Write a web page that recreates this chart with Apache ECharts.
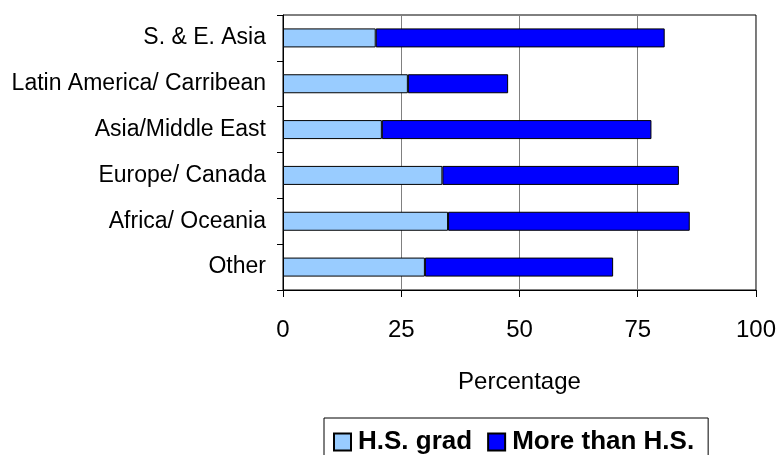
<!DOCTYPE html>
<html lang="en">
<head>
    <meta charset="UTF-8">
    <title>Education by region</title>
    <script src="https://cdn.jsdelivr.net/npm/echarts@6/dist/echarts.min.js"></script>
    <style>
        html, body { margin: 0; padding: 0; background: #fff; }
    </style>
</head>
<body>
<div id="chart" style="width: 779px;height:455px;"></div>
<script>
    // categories, top to bottom
    var regions = ['S. & E. Asia', 'Latin America/ Carribean', 'Asia/Middle East', 'Europe/ Canada', 'Africa/ Oceania', 'Other'];
    // stacked parts (percent)
    var hsGrad = [19.6, 26.4, 20.9, 33.7, 34.9, 30.0];
    var moreThanHS = [61.1, 21.2, 57.0, 50.0, 51.1, 39.8];
    var xTicks = [0, 25, 50, 75, 100];

    var font = '"Liberation Sans", Arial, sans-serif';
    var myChart = echarts.init(document.getElementById('chart'));

    var option = {
        backgroundColor: '#fff',
        animation: false,
        grid: {
            left: 283, right: 23, top: 15, height: 275,
            show: true, borderColor: '#000', borderWidth: 1
        },
        legend: {
            left: 324, top: 418,
            orient: 'horizontal',
            itemWidth: 17, itemHeight: 17, itemGap: 15,
            padding: [11, 14, 12, 9],
            borderColor: '#000', borderWidth: 1,
            icon: 'rect',
            textStyle: { fontFamily: font, fontSize: 26, fontWeight: 'bold', color: '#000', padding: [0, 0, 0, 2] },
            data: ['H.S. grad', 'More than H.S.']
        },
        xAxis: {
            type: 'value',
            min: xTicks[0], max: xTicks[xTicks.length - 1], interval: 25,
            name: 'Percentage', nameLocation: 'middle', nameGap: 80,
            nameTextStyle: { fontFamily: font, fontSize: 24, color: '#000' },
            axisLine: { show: true, lineStyle: { color: '#000' } },
            axisTick: { show: true, length: 7, lineStyle: { color: '#000' } },
            axisLabel: { fontFamily: font, fontSize: 24, color: '#000', margin: 28 },
            splitLine: { show: true, lineStyle: { color: '#808080', width: 1 } }
        },
        yAxis: {
            type: 'category',
            inverse: true,
            data: regions,
            axisLine: { show: true, lineStyle: { color: '#000' } },
            axisTick: { show: true, length: 6, lineStyle: { color: '#000' } },
            axisLabel: { fontFamily: font, fontSize: 23, color: '#000', margin: 17 }
        },
        series: [
            {
                name: 'H.S. grad', type: 'bar', stack: 'edu',
                barWidth: 19,
                itemStyle: { color: '#99CCFF', borderColor: '#000', borderWidth: 1 },
                data: hsGrad
            },
            {
                name: 'More than H.S.', type: 'bar', stack: 'edu',
                barWidth: 19,
                itemStyle: { color: '#0000FF', borderColor: '#000', borderWidth: 1 },
                data: moreThanHS
            }
        ]
    };

    myChart.setOption(option, true);
</script>
</body>
</html>
